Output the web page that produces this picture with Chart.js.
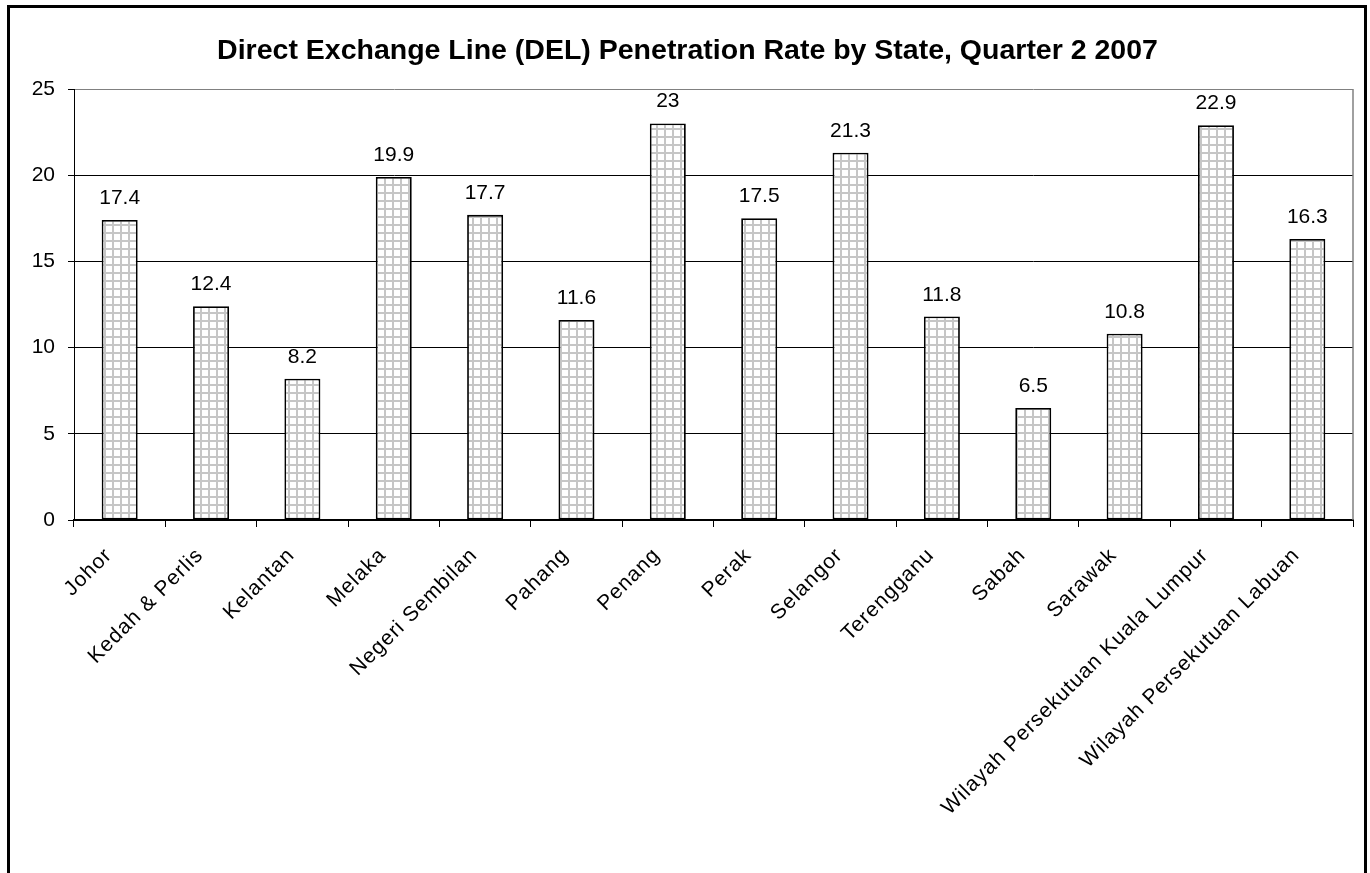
<!DOCTYPE html>
<html>
<head>
<meta charset="utf-8">
<script src="https://cdn.jsdelivr.net/npm/chart.js@4/dist/chart.umd.min.js"></script>
<style>
  html, body { margin: 0; padding: 0; background: #fff; overflow: hidden; }
  #frame { position: absolute; left: 7px; top: 5px; width: 1354px; height: 900px; border: 3px solid #000; }
  #grafik { position: absolute; left: 0; top: 0; }
</style>
</head>
<body>
<div id="frame"></div>
<canvas id="grafik" width="1370" height="873"></canvas>
<script>
const negeri = ['Johor', 'Kedah & Perlis', 'Kelantan', 'Melaka', 'Negeri Sembilan', 'Pahang', 'Penang',
  'Perak', 'Selangor', 'Terengganu', 'Sabah', 'Sarawak', 'Wilayah Persekutuan Kuala Lumpur', 'Wilayah Persekutuan Labuan'];
const kadar = [17.4, 12.4, 8.2, 19.9, 17.7, 11.6, 23, 17.5, 21.3, 11.8, 6.5, 10.8, 22.9, 16.3];
const yTicks = [0, 5, 10, 15, 20, 25];
const judul = 'Direct Exchange Line (DEL) Penetration Rate by State, Quarter 2 2007';

const fontFamily = '"Liberation Sans", Arial, sans-serif';

// pola kotak-kotak kecil untuk isi bar
function buatPola() {
  const c = document.createElement('canvas');
  c.width = 8; c.height = 8;
  const g = c.getContext('2d');
  g.fillStyle = '#fff';
  g.fillRect(0, 0, 8, 8);
  g.fillStyle = '#c6c6c6';
  g.fillRect(0, 0, 8, 2);
  g.fillRect(0, 0, 2, 8);
  return g.createPattern(c, 'repeat');
}

const labelBar = {
  id: 'labelBar',
  beforeDraw(chart) {
    // spasi huruf + geser sedikit label sumbu x
    const sx = chart.scales.x;
    if (!sx._spasi) {
      const asli = sx.drawLabels.bind(sx);
      sx.drawLabels = function (area) {
        chart.ctx.save();
        chart.ctx.letterSpacing = '1px';
        chart.ctx.translate(-11, 4);
        asli(area);
        chart.ctx.restore();
      };
      sx._spasi = true;
    }
  },
  afterDatasetsDraw(chart) {
    const ctx = chart.ctx;
    const a = chart.chartArea;
    ctx.save();
    ctx.strokeStyle = '#808080';
    ctx.lineWidth = 1.5;
    ctx.beginPath();
    ctx.moveTo(a.right, a.top);
    ctx.lineTo(a.right, a.bottom);
    ctx.stroke();
    ctx.fillStyle = '#000';
    ctx.font = '21px ' + fontFamily;
    ctx.textAlign = 'center';
    ctx.textBaseline = 'alphabetic';
    chart.getDatasetMeta(0).data.forEach((bar, i) => {
      ctx.fillText(String(kadar[i]), bar.x, bar.y - 16);
    });
    ctx.restore();
  }
};

const ctx = document.getElementById('grafik').getContext('2d');
window.grafik = new Chart(ctx, {
  type: 'bar',
  data: {
    labels: negeri,
    datasets: [{
      data: kadar,
      backgroundColor: buatPola(),
      borderColor: '#000',
      borderWidth: 1.8,
      borderSkipped: false,
      barPercentage: 0.394,
      categoryPercentage: 1
    }]
  },
  options: {
    responsive: false,
    animation: false,
    layout: { padding: { left: 22, right: 17, top: 0, bottom: 0 } },
    plugins: {
      legend: { display: false },
      tooltip: { enabled: false },
      title: {
        display: true,
        text: judul,
        color: '#000',
        font: { family: fontFamily, size: 28.5, weight: 'bold', lineHeight: 1.2 },
        padding: { top: 34, bottom: 20.8 }
      }
    },
    scales: {
      x: {
        afterFit(s) { s.height = 873 - 520; },
        grid: { offset: true, drawOnChartArea: false, drawTicks: true, tickLength: 7, tickColor: '#000', lineWidth: 1 },
        border: { display: true, color: '#000', width: 2 },
        ticks: {
          autoSkip: false, minRotation: 45, maxRotation: 45, padding: 12,
          color: '#000', font: { family: fontFamily, size: 21 }
        }
      },
      y: {
        min: 0, max: 25,
        afterFit(s) { s.width = 52; },
        afterBuildTicks(s) { s.ticks = yTicks.map(v => ({ value: v })); },
        grid: {
          color: c => (c.tick && c.tick.value === 25 ? '#808080' : '#000'),
          lineWidth: 1, tickLength: 6, tickColor: '#000'
        },
        border: { display: true, color: '#000', width: 1 },
        ticks: { padding: 13, color: '#000', font: { family: fontFamily, size: 21 } }
      }
    }
  },
  plugins: [labelBar]
});
</script>
</body>
</html>
